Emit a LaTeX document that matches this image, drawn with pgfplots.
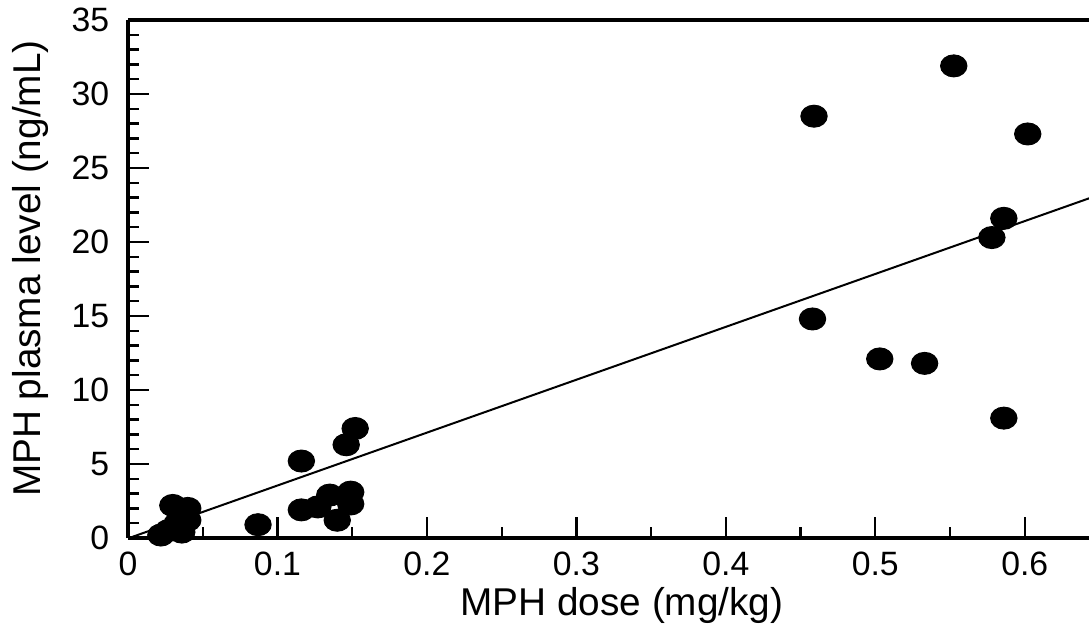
\documentclass[border=0pt]{standalone}
\usepackage{fontspec}
\setmainfont{Liberation Sans}
\usepackage{pgfplots}
\pgfplotsset{compat=1.18}

% dose (mg/kg) vs plasma level (ng/mL)
\pgfplotstableread{
x y
0.022 0.2
0.027 0.5
0.036 0.4
0.033 1.0
0.040 1.2
0.030 2.2
0.040 2.0
0.087 0.9
0.116 5.2
0.152 7.4
0.146 6.3
0.116 1.9
0.127 2.1
0.135 2.9
0.149 3.1
0.149 2.3
0.140 1.2
0.459 28.5
0.5525 31.9
0.602 27.3
0.586 21.6
0.578 20.3
0.458 14.8
0.503 12.1
0.533 11.8
0.586 8.1
}\dosedata

\begin{document}
\begin{tikzpicture}
\begin{axis}[
    scale only axis,
    width=384.4pt, height=207.2pt,
    xmin=0, xmax=0.643,
    ymin=0, ymax=35,
    separate axis lines,
    axis x line*=box,
    axis y line*=left,
    x axis line style={line width=1.4pt},
    y axis line style={line width=1.6pt},
    xtick pos=left, ytick pos=left,
    tick align=inside,
    xtick={0,0.1,...,0.6},
    minor xtick={0.05,0.15,...,0.65},
    ytick={0,5,...,35},
    minor ytick={0,1,...,35},
    major tick length=8.5pt,
    minor tick length=4.5pt,
    every tick/.style={black, line width=0.9pt},
    /pgf/number format/assume math mode=true,
    xticklabel={\pgfmathprintnumber[fixed,precision=1]{\tick}},
    ticklabel style={font=\fontsize{13.5}{15}\selectfont},
    yticklabel style={xshift=-4pt},
    xticklabel style={yshift=-2pt},
    xlabel={MPH dose (mg/kg)},
    ylabel={MPH plasma level (ng/mL)},
    label style={font=\fontsize{15.5}{18}\selectfont},
    xlabel style={at={(axis description cs:0.514,-0.13)}, anchor=center},
    ylabel style={at={(axis description cs:-0.1015,0.52)}, anchor=center},
]
\coordinate (sw) at (rel axis cs:0,0);
\addplot[only marks, mark=*, mark size=4.4pt, mark options={black, xscale=1.2}] table[x=x, y=y] {\dosedata};
\addplot[black, line width=0.8pt] coordinates {(0.003,0.08) (0.65,23.2)};
\end{axis}
\pgfresetboundingbox
\path (sw) ++(-51.2pt,-36.8pt) rectangle ++(435.6pt,252pt);
\end{tikzpicture}
\end{document}
